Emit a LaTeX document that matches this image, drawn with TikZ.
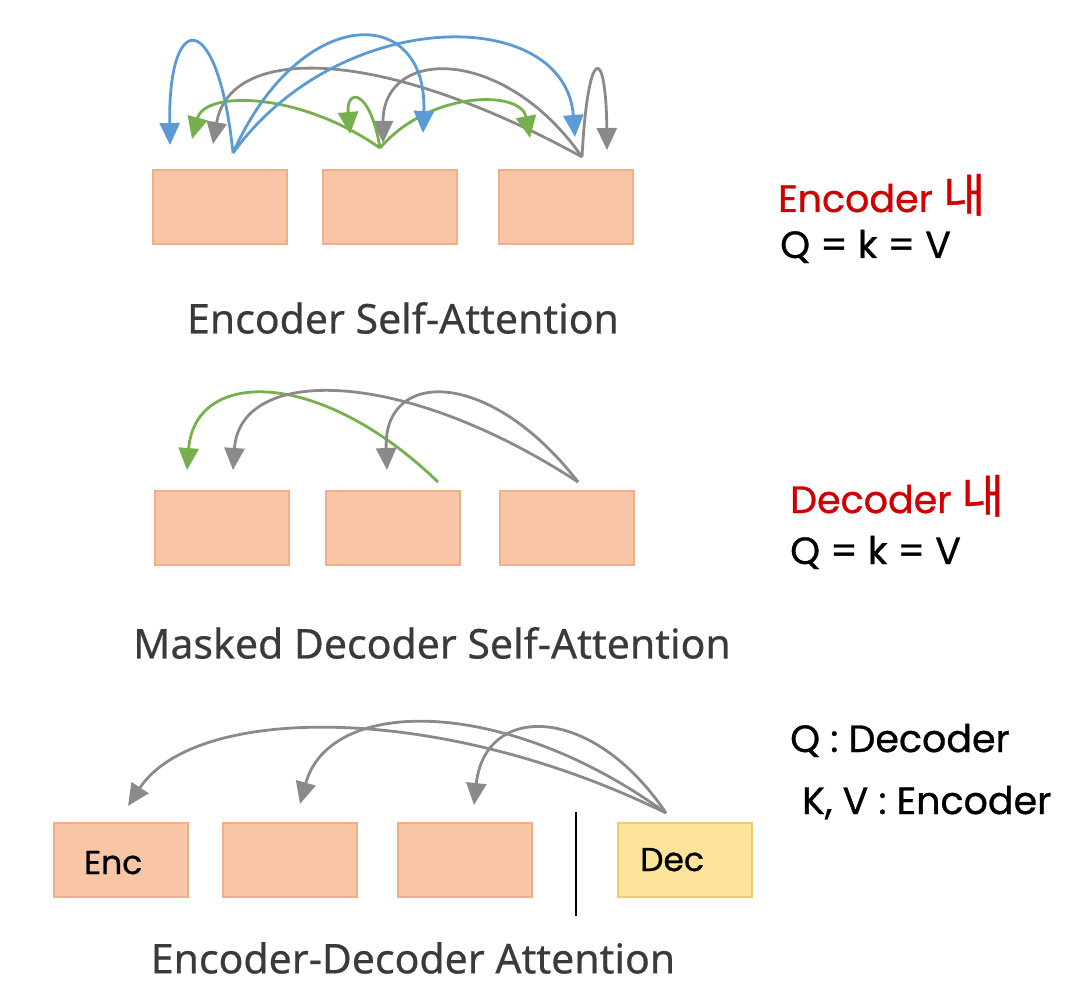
\documentclass[tikz,border=0pt]{standalone}
\usepackage{fontspec}
\setmainfont{Noto Sans}
\newfontfamily\titlefont[FakeBold=0.5]{Noto Sans}
\newfontfamily\hand[FakeBold=0.8]{Poppins}
\newfontfamily\kor[FakeBold=0.8]{Noto Sans CJK KR}
\usetikzlibrary{arrows.meta}
\definecolor{boxfill}{HTML}{F8C6A7}
\definecolor{boxline}{HTML}{F2AE88}
\definecolor{decfill}{HTML}{FCE49A}
\definecolor{decline}{HTML}{EDCB6E}
\definecolor{arrblue}{HTML}{5B9BD5}
\definecolor{arrgreen}{HTML}{76B04E}
\definecolor{arrgray}{HTML}{8A8A8A}
\definecolor{titlegray}{HTML}{3A3A3A}
\definecolor{handred}{HTML}{D00000}
\tikzset{
  tokbox/.style={draw=boxline, fill=boxfill, line width=2pt, minimum width=134pt, minimum height=74pt, inner sep=0pt},
  decbox/.style={tokbox, draw=decline, fill=decfill},
  att/.style={line width=2.8pt, -{Triangle[length=22pt,width=20pt]}},
  attblue/.style={att, draw=arrblue},
  attgreen/.style={att, draw=arrgreen},
  attgray/.style={att, draw=arrgray},
  title/.style={font=\titlefont\fontsize{41}{46}\selectfont, text=titlegray, inner sep=0pt},
  handtxt/.style={font=\hand\fontsize{38}{44}\selectfont, inner sep=0pt, anchor=base west},
}
\newcommand{\naechar}{{\kor\fontsize{46}{50}\selectfont 내}}
\begin{document}
\begin{tikzpicture}[x=1pt,y=-1pt]
\path[use as bounding box] (0,0) rectangle (1078,1000);
% ---------- Encoder self-attention ----------
\node[tokbox] (e1) at (220,207.5) {};
\node[tokbox] (e2) at (390,207.5) {};
\node[tokbox] (e3) at (566,207.5) {};
\node[title] (t1) at (403,318) {Encoder Self-Attention};
\coordinate (eb) at (233,153);
\coordinate (eg) at (380,148);
\coordinate (ey) at (582,157);
\coordinate (e1b) at (170,145);
\coordinate (e1g) at (192,139);
\coordinate (e1y) at (213,144);
\coordinate (e2g) at (350,134);
\coordinate (e2y) at (383,143);
\coordinate (e2b) at (423,133);
\coordinate (e3g) at (530,138);
\coordinate (e3b) at (575,137);
\coordinate (e3y) at (607,150);
% gray (from word 3)
\draw[attgray] (ey) .. controls (380,46) and (230,44) .. (e1y);
\draw[attgray] (ey) .. controls (505,46) and (383,46) .. (e2y);
\draw[attgray] (ey) .. controls (588,44) and (606,44) .. (e3y);
% green (from word 2)
\draw[attgreen] (eg) .. controls (300,92) and (205,90) .. (e1g);
\draw[attgreen] (eg) .. controls (370,88) and (346,88) .. (e2g);
\draw[attgreen] (eg) .. controls (430,90) and (521,90) .. (e3g);
% blue (from word 1)
\draw[attblue] (eb) .. controls (218,8) and (168,8) .. (e1b);
\draw[attblue] (eb) .. controls (300,3) and (428,3) .. (e2b);
\draw[attblue] (eb) .. controls (340,5) and (565,5) .. (e3b);
% ---------- Masked decoder self-attention ----------
\node[tokbox] (d1) at (222,528) {};
\node[tokbox] (d2) at (393,528) {};
\node[tokbox] (d3) at (567,528) {};
\node[title] (t2) at (432,643) {Masked Decoder Self-Attention};
\coordinate (dg) at (438,482);
\coordinate (dy) at (578,482);
\coordinate (d1g) at (187,470);
\coordinate (d1y) at (233,470);
\coordinate (d2y) at (387,470);
\draw[attgreen] (dg) .. controls (320,368) and (195,368) .. (d1g);
\draw[attgray] (dy) .. controls (400,366) and (240,366) .. (d1y);
\draw[attgray] (dy) .. controls (490,368) and (383,368) .. (d2y);
% ---------- Encoder-decoder attention ----------
\node[tokbox] (c1) at (121,860) {};
\node[tokbox] (c2) at (290,860) {};
\node[tokbox] (c3) at (465,860) {};
\node[decbox] (dec) at (685,860) {};
\coordinate (sepT) at (576,812);
\coordinate (sepB) at (576,916);
\draw[line width=2.4pt, black] (sepT) -- (sepB);
\node[title] (t3) at (413,958) {Encoder-Decoder Attention};
\coordinate (cs) at (666,813);
\coordinate (c1t) at (128,806);
\coordinate (c2t) at (300,804);
\coordinate (c3t) at (474,805);
\draw[attgray] (cs) .. controls (440,702) and (195,704) .. (c1t);
\draw[attgray] (cs) .. controls (505,696) and (330,696) .. (c2t);
\draw[attgray] (cs) .. controls (592,703) and (485,703) .. (c3t);
\node[handtxt, font=\hand\fontsize{33}{36}\selectfont] (enc) at (84,874) {Enc};
\node[handtxt, font=\hand\fontsize{33}{36}\selectfont] (dectx) at (640,871) {Dec};
% ---------- handwritten notes ----------
\node[handtxt, text=handred] (n1) at (778,212) {Encoder \naechar};
\node[handtxt] (n2) at (780,258) {Q = k = V};
\node[handtxt, text=handred] (n3) at (790,513) {Decoder \naechar};
\node[handtxt] (n4) at (790,564) {Q = k = V};
\node[handtxt] (n5) at (790,752) {Q : Decoder};
\node[handtxt] (n6) at (802,814) {K, V : Encoder};
\end{tikzpicture}
\end{document}
